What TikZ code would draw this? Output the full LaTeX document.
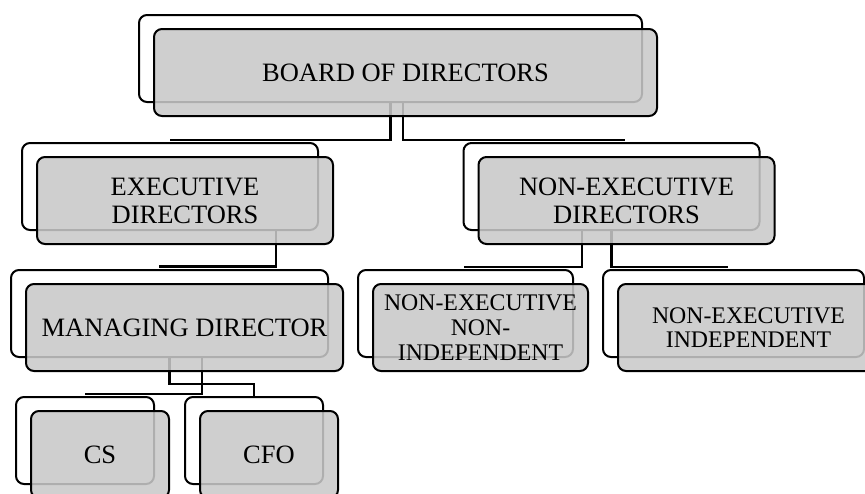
\documentclass[tikz,border=0pt]{standalone}
\usepackage{fontspec}
\setmainfont{Liberation Serif}
\usetikzlibrary{calc, positioning}

\begin{document}
\begin{tikzpicture}[x=1pt, y=-1pt,
    backbox/.style={draw, line width=2pt, rounded corners=8pt, fill=white, inner sep=0pt, minimum height=87pt},
    frontbox/.style={draw, line width=2pt, rounded corners=8pt, fill=black!21, fill opacity=0.87, text opacity=1,
                     inner sep=0pt, minimum height=87pt, align=center, font=\fontsize{26.5}{28}\selectfont},
    smalltext/.style={font=\fontsize{23.8}{24.7}\selectfont},
    link/.style={line width=2.2pt}]
    \useasboundingbox (0,0) rectangle (865,493);
    \clip (0,0) rectangle (865,493);

    % Back boxes
    \node[backbox, minimum width=503pt] (bodB) at (390.5,58.5) {};
    \node[backbox, minimum width=296pt] (exeB) at (170,186.5) {};
    \node[backbox, minimum width=296pt] (nedB) at (611.5,186.5) {};
    \node[backbox, minimum width=317pt] (mdB) at (169.5,313.5) {};
    \node[backbox, minimum width=215pt] (neniB) at (465.5,313.5) {};
    \node[backbox, minimum width=261pt] (neiB) at (733.5,313.5) {};
    \node[backbox, minimum width=138pt] (csB) at (85,440.5) {};
    \node[backbox, minimum width=138pt] (cfoB) at (254,440.5) {};

    % Board to directors
    \draw[link] (bodB.south) |- ($(exeB.north)+(0,-2.2)$);
    \draw[link] ($(bodB.south)+(12.5,0)$) |- ($(nedB.north)+(13.5,-2.2)$);

    % Executive directors to managing director
    \draw[link] ($(exeB.south)+(106,0)$) |- ($(mdB.north)+(-10.5,-2.5)$);

    % Managing director to CS and CFO
    \draw[link] (mdB.south) -- ++(0,26) -| (cfoB.north);
    \draw[link] ($(mdB.south)+(32.5,0)$) |- ($(csB.north)+(0,-2)$);

    % Non-executive directors to their two kinds
    \draw[link] ($(nedB.south)+(-29.5,0)$) |- ($(neniB.north)+(-1.5,-2.2)$);
    \draw[link] (nedB.south) |- ($(neiB.north)+(-5.5,-2.2)$);

    % Front boxes
    \node[frontbox, minimum width=503pt] (bodF) at ($(bodB)+(15,14)$) {BOARD OF DIRECTORS};
    \node[frontbox, minimum width=296pt] (exeF) at ($(exeB)+(15,14)$) {EXECUTIVE\\DIRECTORS};
    \node[frontbox, minimum width=296pt] (nedF) at ($(nedB)+(15,14)$) {NON-EXECUTIVE\\DIRECTORS};
    \node[frontbox, minimum width=317pt] (mdF) at ($(mdB)+(15,14)$) {MANAGING DIRECTOR};
    \node[frontbox, smalltext, minimum width=215pt] (neniF) at ($(neniB)+(15,14)$) {NON-EXECUTIVE\\NON-\\INDEPENDENT};
    \node[frontbox, smalltext, minimum width=261pt] (neiF) at ($(neiB)+(15,14)$) {NON-EXECUTIVE\\INDEPENDENT};
    \node[frontbox, minimum width=138pt] (csF) at ($(csB)+(15,14)$) {CS};
    \node[frontbox, minimum width=138pt] (cfoF) at ($(cfoB)+(15,14)$) {CFO};
\end{tikzpicture}
\end{document}
